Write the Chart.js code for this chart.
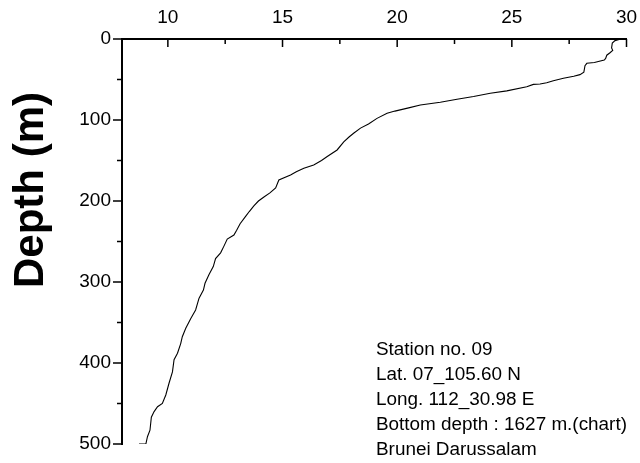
<!DOCTYPE html>
<html>
<head>
<meta charset="utf-8">
<script src="https://cdn.jsdelivr.net/npm/chart.js@4.4.1/dist/chart.umd.min.js"></script>
<style>
  html, body { margin: 0; padding: 0; background: #fff; }
  #wrap { width: 640px; height: 463px; }
</style>
</head>
<body>
<div id="wrap"><canvas id="c" width="640" height="463"></canvas></div>
<script>
// Depth (m) of each reading
const depths = [0, 2, 5, 11, 14, 17, 20, 24, 26, 29, 30, 33, 41, 44, 46, 48.5, 51.5, 54, 55.6, 56, 59, 64, 67, 71, 74.4, 78, 81.5, 85, 89, 91.7, 98, 105, 110, 116.4, 121, 127, 137, 145, 150, 155.6, 159.6, 164, 168, 174, 184, 190, 195, 200, 206, 213, 219, 228, 236, 242, 247, 256, 264, 271, 281, 291, 301.6, 310, 320, 334.6, 345, 357, 367.5, 376, 388, 396, 411, 425, 439.5, 450, 454, 460, 467, 483, 491, 500, 500];
// Temperature (°C) at each depth
const temps = [29.75, 29.5, 29.38, 29.35, 29.4, 29.28, 29.14, 29.09, 29.03, 28.6, 28.27, 28.19, 28.14, 27.97, 27.7, 27.25, 26.81, 26.52, 26.23, 25.94, 25.65, 24.78, 24.06, 23.33, 22.61, 21.88, 21.01, 20.5, 19.9, 19.56, 19.12, 18.75, 18.4, 18.1, 17.9, 17.67, 17.38, 16.95, 16.7, 16.36, 15.93, 15.6, 15.35, 14.84, 14.7, 14.45, 14.19, 13.95, 13.75, 13.55, 13.39, 13.15, 13.0, 12.88, 12.59, 12.44, 12.3, 12.08, 11.98, 11.79, 11.62, 11.55, 11.36, 11.21, 11.0, 10.78, 10.63, 10.56, 10.42, 10.27, 10.2, 10.05, 9.91, 9.76, 9.55, 9.4, 9.28, 9.22, 9.11, 9.04, 8.74];
const xTicks = [10, 15, 20, 25, 30];
const xMinorTicks = [12.5, 17.5, 22.5, 27.5];
const yTicks = [0, 100, 200, 300, 400, 500];
const yMinorTicks = [50, 150, 250, 350, 450];
const yTitle = 'Depth (m)';
const noteLines = ['Station no. 09', 'Lat. 07_105.60 N', 'Long. 112_30.98 E', 'Bottom depth : 1627 m.(chart)', 'Brunei Darussalam'];

const FONT = "'Liberation Sans', Arial, sans-serif";
const points = depths.map((d, i) => ({ x: temps[i], y: d }));

const decor = {
  id: 'decor',
  afterDraw(chart) {
    const ctx = chart.ctx;
    const xs = chart.scales.x, ys = chart.scales.y;
    const ca = chart.chartArea;
    ctx.save();
    ctx.strokeStyle = '#000';
    ctx.lineWidth = 1.5;
    ctx.beginPath();
    xTicks.forEach(v => { const p = xs.getPixelForValue(v); ctx.moveTo(p, ca.top); ctx.lineTo(p, ca.top + 8); });
    xMinorTicks.forEach(v => { const p = xs.getPixelForValue(v); ctx.moveTo(p, ca.top); ctx.lineTo(p, ca.top + 5); });
    yTicks.forEach(v => { const p = ys.getPixelForValue(v); ctx.moveTo(ca.left, p); ctx.lineTo(ca.left - 9, p); });
    yMinorTicks.forEach(v => { const p = ys.getPixelForValue(v); ctx.moveTo(ca.left, p); ctx.lineTo(ca.left - 5, p); });
    ctx.stroke();

    // y-axis title
    ctx.fillStyle = '#000';
    ctx.font = "bold 42px " + FONT;
    ctx.textAlign = 'center';
    ctx.textBaseline = 'middle';
    ctx.translate(31, 190);
    ctx.rotate(-Math.PI / 2);
    ctx.fillText(yTitle, 0, 0);
    ctx.restore();

    // station note
    ctx.save();
    ctx.fillStyle = '#000';
    ctx.font = "18.9px " + FONT;
    ctx.textAlign = 'left';
    ctx.textBaseline = 'middle';
    noteLines.forEach((t, i) => ctx.fillText(t, 376, 350 + i * 25));
    ctx.restore();
  }
};

new Chart(document.getElementById('c'), {
  type: 'scatter',
  data: {
    datasets: [{
      data: points,
      showLine: true,
      borderColor: '#000',
      borderWidth: 1.1,
      pointRadius: 0,
      tension: 0,
      fill: false
    }]
  },
  options: {
    responsive: false,
    animation: false,
    devicePixelRatio: 1,
    layout: { padding: { left: 0, top: 0, right: 13.5, bottom: 19 } },
    plugins: { legend: { display: false }, tooltip: { enabled: false } },
    scales: {
      x: {
        type: 'linear',
        position: 'top',
        min: 8,
        max: 30,
        afterBuildTicks: s => { s.ticks = xTicks.map(v => ({ value: v })); },
        afterFit: s => { s.height = 39; s.paddingLeft = 0; s.paddingRight = 0; },
        grid: { display: false, drawTicks: false },
        border: { display: true, color: '#000', width: 2 },
        ticks: { color: '#000', font: { family: FONT, size: 19 }, padding: 10, maxRotation: 0 }
      },
      y: {
        type: 'linear',
        reverse: true,
        min: 0,
        max: 500,
        afterBuildTicks: s => { s.ticks = yTicks.map(v => ({ value: v })); },
        afterFit: s => { s.width = 122; s.paddingTop = 0; s.paddingBottom = 0; },
        grid: { display: false, drawTicks: false },
        border: { display: true, color: '#000', width: 2 },
        ticks: { color: '#000', font: { family: FONT, size: 19 }, padding: 11 }
      }
    }
  },
  plugins: [decor]
});
</script>
</body>
</html>
